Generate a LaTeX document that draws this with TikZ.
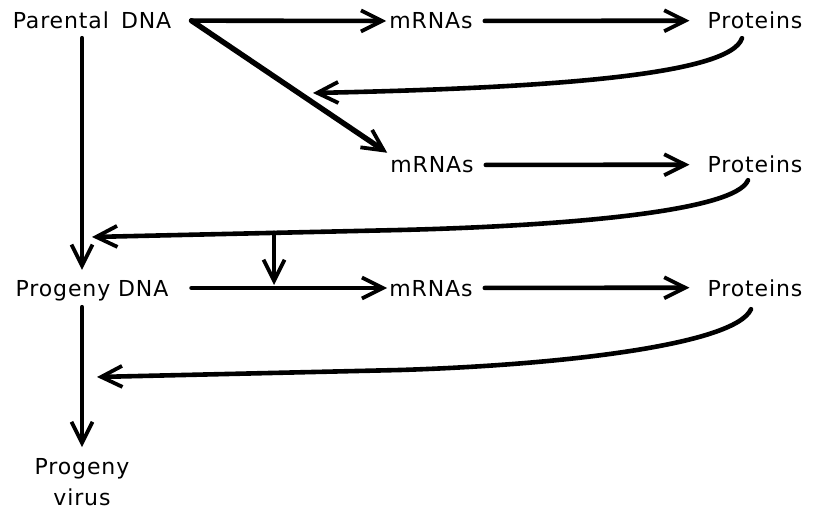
\documentclass[tikz,border=0pt]{standalone}
\usepackage{fontspec}
\setmainfont{DejaVu Sans}[LetterSpace=4]
\usetikzlibrary{arrows.meta,calc}
\begin{document}
\begin{tikzpicture}[x=1pt,y=-1pt,
  lab/.style={font=\fontsize{22}{33}\selectfont, inner sep=0pt, text depth=0pt, anchor=base},
  vlab/.style={font=\fontsize{22}{31}\selectfont, inner sep=0pt, align=center, anchor=north},
  arr/.style={line width=4.6pt, line cap=round, -{Straight Barb[length=21pt,width=21pt,line width=3.8pt]}}]
\useasboundingbox (0,0) rectangle (814,513);
% texts
\node[lab] (pdna) at (92,29) {Parental\hspace{0.55em}DNA};
\node[lab] (m1) at (431,29) {mRNAs};
\node[lab] (p1) at (755,29) {Proteins};
\node[lab] (m2) at (432,173) {mRNAs};
\node[lab] (p2) at (755,173) {Proteins};
\node[lab] (gdna) at (92,296) {Progeny DNA};
\node[lab] (m3) at (431,296) {mRNAs};
\node[lab] (p3) at (755,296) {Proteins};
\node[vlab] (virus) at (82,458) {Progeny\\virus};
% helper coordinates
\coordinate (vx) at (82,0);
\coordinate (s1) at ([xshift=20pt]pdna.east);
\coordinate (t1) at (313,93);
\coordinate (t2) at (92,237);
\coordinate (t3) at (97,377);
% top row
\draw[arr] (s1) -- ([xshift=-3pt]m1.west);
\draw[arr, shorten <=12pt, shorten >=18pt] (m1) -- (p1);
\draw[arr, line width=5.4pt] (s1) -- ([xshift=-3pt,yshift=4pt]m2.north west);
% middle row
\draw[arr, shorten <=12pt, shorten >=18pt] (m2) -- (p2);
% third row
\draw[arr, shorten <=23pt, shorten >=2pt] (gdna) -- (m3);
\draw[arr, shorten <=12pt, shorten >=18pt] (m3) -- (p3);
% verticals
\draw[arr, shorten <=9pt, shorten >=10pt] (pdna.south -| vx) -- (gdna.north -| vx);
\draw[arr, shorten <=11pt, shorten >=11pt] (gdna.south -| vx) -- (virus.north -| vx);
% feedback curves
\draw[arr] ([xshift=-13pt,yshift=-9pt]p1.south) .. controls (730,75) and (550,88) .. (t1);
\draw[arr] ([xshift=-7pt,yshift=-7pt]p2.south) .. controls (735,212) and (560,226) .. (400,230) -- (t2);
\path (400,230) -- (t2) coordinate[pos=0.409] (j);
\draw[arr, shorten >=3pt] (j) -- (j |- m3);
\draw[arr] ([xshift=-4pt,yshift=-13pt]p3.south) .. controls (735,345) and (560,365) .. (400,370) -- (t3);
\end{tikzpicture}
\end{document}
